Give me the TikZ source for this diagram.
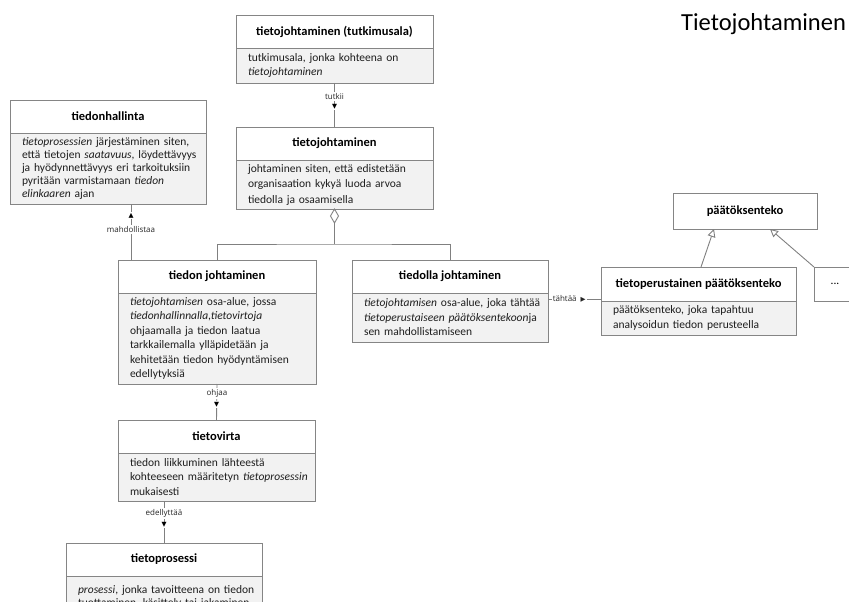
\documentclass[tikz,border=0pt]{standalone}
\usepackage{fontspec}
\setmainfont{Carlito}
\newfontfamily\lblfont{Open Sans}
\newfontfamily\symfont{DejaVu Sans}
\usetikzlibrary{arrows.meta,calc}
\definecolor{bordc}{HTML}{858585}
\definecolor{bodyc}{HTML}{F2F2F2}
\definecolor{linec}{HTML}{808080}
\definecolor{txtc}{HTML}{1E1E1E}
\hfuzz=100pt
\hbadness=10000
% one unbreakable line of a compartment text
\newcommand\bline[1]{\mbox{#1}}

\tikzset{
  hdr/.style={draw=bordc, fill=white, line width=0.9pt, anchor=north west,
    outer sep=0pt, inner sep=0pt, minimum width=#1, minimum height=33,
    font=\fontsize{12.5}{15}\selectfont\bfseries, text=black},
  bdy/.style 2 args={draw=bordc, fill=bodyc, line width=0.9pt, anchor=north west,
    outer sep=0pt, inner xsep=12pt, inner ysep=0pt, text width=#1,
    minimum height=#2, align=left,
    font=\fontsize{11.5}{14.5}\selectfont, text=txtc},
  conn/.style={draw=linec, line width=0.9pt},
  gen/.style={draw=linec, line width=0.9pt,
    -{Triangle[open, length=8pt, width=8pt]}},
  lbl/.style={font=\lblfont\fontsize{8}{9}\selectfont, fill=white,
    inner xsep=1pt, inner ysep=1.5pt, text=black!85},
  dirmark/.style={font=\symfont\fontsize{6.5}{7}\selectfont, fill=white,
    inner sep=0.8pt, text=black},
}

\begin{document}
\begin{tikzpicture}[x=1pt, y=-1pt]
\useasboundingbox (0,0) rectangle (849,602);

% title
\node[anchor=base west, inner sep=0pt, font=\fontsize{24.5}{28}\selectfont]
  (title) at (681,31) {Tietojohtaminen};

% tietojohtaminen (tutkimusala)
\node[hdr=197] (aH) at (236,15) {tietojohtaminen (tutkimusala)};
\node[bdy={173pt}{35}] (aB) at (aH.south west)
  {\bline{tutkimusala, jonka kohteena on}\\\bline{\textit{tietojohtaminen}}};

% tietojohtaminen
\node[hdr=197] (bH) at (236,127) {tietojohtaminen};
\node[bdy={173pt}{49}, font=\fontsize{11.5}{15.5}\selectfont] (bB) at (bH.south west)
  {\bline{johtaminen siten, että edistetään}\\\bline{organisaation kykyä luoda arvoa}\\\bline{tiedolla ja osaamisella}};

% tiedonhallinta
\node[hdr=196] (cH) at (10,100) {tiedonhallinta};
\node[bdy={172pt}{71}, font=\fontsize{11.5}{13.2}\selectfont] (cB) at (cH.south west)
  {\bline{\textit{tietoprosessien} järjestäminen siten,}\\
   \bline{että tietojen \textit{saatavuus}, löydettävyys}\\
   \bline{ja hyödynnettävyys eri tarkoituksiin}\\
   \bline{pyritään varmistamaan \textit{tiedon}}\\
   \bline{\textit{elinkaaren} ajan}};

% tiedon johtaminen
\node[hdr=198] (dH) at (118,260) {tiedon johtaminen};
\node[bdy={174pt}{91}] (dB) at (dH.south west)
  {\bline{\textit{tietojohtamisen} osa-alue, jossa}\\
   \bline{\textit{tiedonhallinnalla,tietovirtoja}}\\
   \bline{ohjaamalla ja tiedon laatua}\\
   \bline{tarkkailemalla ylläpidetään ja}\\
   \bline{kehitetään tiedon hyödyntämisen}\\
   \bline{edellytyksiä}};

% tiedolla johtaminen
\node[hdr=196] (eH) at (352,260) {tiedolla johtaminen};
\node[bdy={172pt}{49}] (eB) at (eH.south west)
  {\bline{\textit{tietojohtamisen} osa-alue, joka tähtää}\\
   \bline{\textit{tietoperustaiseen päätöksentekoon}ja}\\
   \bline{sen mahdollistamiseen}};

% päätöksenteko and its specialisations
\node[hdr=144, minimum height=36] (fN) at (673,193) {päätöksenteko};
\node[hdr=195, minimum height=34] (gH) at (601,267) {tietoperustainen päätöksenteko};
\node[bdy={171pt}{34}] (gB) at (gH.south west)
  {\bline{päätöksenteko, joka tapahtuu}\\\bline{analysoidun tiedon perusteella}};
\node[hdr=42, minimum height=34, font=\fontsize{11.5}{14}\selectfont] (xH) at (814,267) {...};

% tietovirta
\node[hdr=197] (vH) at (118,420) {tietovirta};
\node[bdy={173pt}{48}] (vB) at (vH.south west)
  {\bline{tiedon liikkuminen lähteestä}\\
   \bline{kohteeseen määritetyn \textit{tietoprosessin}}\\
   \bline{mukaisesti}};

% tietoprosessi
\node[hdr=196] (pH) at (66,543) {tietoprosessi};
\node[bdy={172pt}{42}, font=\fontsize{11.5}{13.5}\selectfont] (pB) at (pH.south west)
  {\bline{\textit{prosessi}, jonka tavoitteena on tiedon}\\
   \bline{tuottaminen, käsittely tai jakaminen}};

% tutkii
\draw[conn] (aB.south) -- (bH.north)
  node[lbl, pos=0.3] {tutkii}
  node[dirmark, pos=0.55] {▼};

% aggregation: tietojohtaminen consists of two parts
\draw[conn, fill=white] (bB.south) -- ++(4,7) -- ++(-4,7) -- ++(-4,-7) -- cycle;
\coordinate (aggtip) at ($(bB.south)+(0,14)$);
\coordinate (bus) at ($(bB.south)+(0,35)$);
\draw[conn] (aggtip) -- (bus);
\draw[conn] (dH.north) |- (bus) -| (eH.north);

% mahdollistaa
\coordinate (mh) at ($(dH.north west)+(13,0)$);
\draw[conn] (mh |- cB.south) -- (mh)
  node[dirmark, pos=0.21] {▲}
  node[lbl, pos=0.45] {mahdollistaa};

% ohjaa
\draw[conn] (dB.south) -- (vH.north)
  node[lbl, pos=0.27] {ohjaa}
  node[dirmark, pos=0.57] {▼};

% edellyttää
\draw[conn] (pH.north |- vB.south) -- (pH.north)
  node[lbl, pos=0.3] {edellyttää}
  node[dirmark, pos=0.57] {▼};

% tähtää
\coordinate (th) at ($(eB.north east)+(0,6)$);
\draw[conn] (th) -- (th -| gH.west)
  node[lbl, pos=0.4] {tähtää\hspace{4pt}{\symfont\fontsize{6.5}{7}\selectfont ▶}};

% generalisations
\draw[gen] ($(gH.north west)+(100,0)$) -- ($(fN.south west)+(41,0)$);
\draw[gen] (xH.north west) -- ($(fN.south west)+(97,0)$);
\end{tikzpicture}
\end{document}
